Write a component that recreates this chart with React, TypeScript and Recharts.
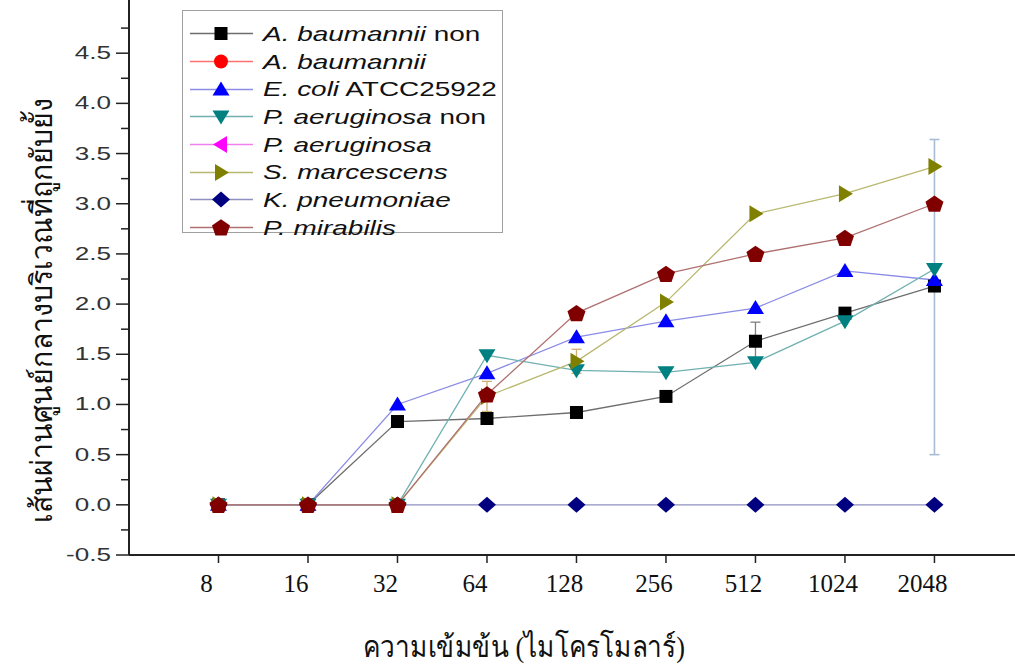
import { LineChart, Line, XAxis, YAxis, Legend, ErrorBar, Label } from 'recharts';

// concentration categories (x axis)
const concentrations = ['8', '16', '32', '64', '128', '256', '512', '1024', '2048'];

// y axis ticks (major every 0.5, minor every 0.25)
const yTicks = [
  -0.5, -0.25, 0, 0.25, 0.5, 0.75, 1, 1.25, 1.5, 1.75, 2, 2.25, 2.5, 2.75, 3, 3.25, 3.5, 3.75, 4, 4.25,
  4.5, 4.75,
];

// inhibition zone values per series (null = no point visible)
const abNon = [0, 0, 0.83, 0.86, 0.92, 1.08, 1.63, 1.91, 2.18];
const abau = [null, null, null, null, null, null, null, null, null];
const ecoli = [0, 0, 1.0, 1.31, 1.67, 1.83, 1.96, 2.33, 2.24];
const paNon = [0, 0, 0, 1.49, 1.34, 1.32, 1.42, 1.83, 2.35];
const paer = [null, null, null, null, null, null, null, null, null];
const smar = [0, 0, 0, 1.08, 1.43, 2.02, 2.9, 3.1, 3.37];
const kpne = [0, 0, 0, 0, 0, 0, 0, 0, 0];
const pmir = [0, 0, 0, 1.1, 1.91, 2.3, 2.5, 2.66, 3.0];

// error bars [below, above]
const abNonErr = [null, null, null, null, null, null, [0.19, 0.19], null, null];
const ecoliErr = [null, null, null, null, null, null, null, null, [1.74, 1.4]];
const smarErr = [null, null, null, [0.15, 0.15], [0.12, 0.12], null, null, null, null];

const legendItalic = [
  'A. baumannii',
  'A. baumannii',
  'E. coli',
  'P. aeruginosa',
  'P. aeruginosa',
  'S. marcescens',
  'K. pneumoniae',
  'P. mirabilis',
];
const legendSuffix = [' non', '', ' ATCC25922', ' non', '', '', '', ''];

const seriesKeys = ['abNon', 'abau', 'ecoli', 'paNon', 'paer', 'smar', 'kpne', 'pmir'];
const seriesValues = [abNon, abau, ecoli, paNon, paer, smar, kpne, pmir];

const seriesStyle = [
  { shape: 'square', color: '#000000', line: '#6e6e6e' },
  { shape: 'circle', color: '#ff0000', line: '#ff7070' },
  { shape: 'up', color: '#0000ff', line: '#8c8ce6' },
  { shape: 'down', color: '#008080', line: '#70b0b0' },
  { shape: 'left', color: '#ff00ff', line: '#f080f0' },
  { shape: 'right', color: '#808000', line: '#b8b870' },
  { shape: 'diamond', color: '#000080', line: '#9090c0' },
  { shape: 'pentagon', color: '#800000', line: '#b07070' },
];

const chartData = concentrations.map((c, i) => {
  const row: Record<string, unknown> = { idx: i, label: c };
  seriesKeys.forEach((k, s) => {
    row[k] = seriesValues[s][i];
  });
  row.abNonErr = abNonErr[i];
  row.ecoliErr = ecoliErr[i];
  row.smarErr = smarErr[i];
  return row;
});

function Marker({ shape, cx, cy, color }: { shape: string; cx: number; cy: number; color: string }) {
  if (cx == null || cy == null) return null;
  const pts = (arr: number[][]) => arr.map(([a, b]) => `${cx + a},${cy + b}`).join(' ');
  switch (shape) {
    case 'square':
      return <rect x={cx - 6.5} y={cy - 6.5} width={13} height={13} fill={color} />;
    case 'circle':
      return <circle cx={cx} cy={cy} r={7} fill={color} />;
    case 'up':
      return <polygon points={pts([[0, -8], [8.5, 6], [-8.5, 6]])} fill={color} />;
    case 'down':
      return <polygon points={pts([[0, 8], [8.5, -6], [-8.5, -6]])} fill={color} />;
    case 'left':
      return <polygon points={pts([[-8, 0], [6, -8.5], [6, 8.5]])} fill={color} />;
    case 'right':
      return <polygon points={pts([[8, 0], [-6, -8.5], [-6, 8.5]])} fill={color} />;
    case 'diamond':
      return <polygon points={pts([[0, -8], [9, 0], [0, 8], [-9, 0]])} fill={color} />;
    default: {
      const p: number[][] = [];
      for (let k = 0; k < 5; k++) {
        const a = -Math.PI / 2 + (k * 2 * Math.PI) / 5;
        p.push([9.5 * Math.cos(a), 9 * Math.sin(a) + 0.8]);
      }
      return <polygon points={pts(p)} fill={color} />;
    }
  }
}

function YTick(props: any) {
  const { x, y, payload } = props;
  const v = payload.value as number;
  const major = Math.abs(v * 2 - Math.round(v * 2)) < 1e-6;
  return (
    <g>
      <line x1={x} x2={x - (major ? 13 : 8)} y1={y} y2={y} stroke="#222" strokeWidth={1.5} />
      {major && (
        <text
          transform={`translate(${x - 18},${y}) scale(1.45,1)`}
          textAnchor="end"
          dominantBaseline="central"
          fontSize={18}
          fill="#333"
          fontFamily="'Liberation Sans', Arial, sans-serif"
        >
          {v.toFixed(1)}
        </text>
      )}
    </g>
  );
}

function XTick(props: any) {
  const { x, y, payload } = props;
  return (
    <g>
      <line x1={x} x2={x} y1={y} y2={y + 8} stroke="#222" strokeWidth={1.5} />
      <text
        x={x - 12}
        y={y + 37}
        textAnchor="middle"
        fontSize={25}
        fill="#111"
        fontFamily="'Liberation Serif', 'Times New Roman', serif"
      >
        {concentrations[payload.value]}
      </text>
    </g>
  );
}

function LegendBox() {
  return (
    <div
      style={{
        boxSizing: 'border-box',
        width: 321,
        height: 223,
        border: '1.5px solid #a0a0a0',
        background: '#fff',
        paddingTop: 9,
      }}
    >
      {seriesKeys.map((k, i) => (
        <div key={k} style={{ height: 27.7, display: 'flex', alignItems: 'center' }}>
          <svg width={72} height={27} style={{ flex: 'none' }}>
            <line x1={7} x2={70} y1={13.5} y2={13.5} stroke={seriesStyle[i].line} strokeWidth={1.3} />
            <Marker shape={seriesStyle[i].shape} cx={38} cy={13.5} color={seriesStyle[i].color} />
          </svg>
          <span
            style={{
              display: 'inline-block',
              marginLeft: 8,
              transform: 'scaleX(1.33)',
              transformOrigin: 'left center',
              fontFamily: "'Liberation Sans', Arial, sans-serif",
              fontSize: 21,
              color: '#111',
              whiteSpace: 'nowrap',
            }}
          >
            <i>{legendItalic[i]}</i>
            {legendSuffix[i]}
          </span>
        </div>
      ))}
    </div>
  );
}

export default function App() {
  return (
    <div style={{ position: 'absolute', left: 0, top: 0, width: 1015, height: 666, background: '#fff' }}>
      <LineChart width={1015} height={666} data={chartData} margin={{ top: 0, right: 0, bottom: 0, left: 0 }}>
        <XAxis
          dataKey="idx"
          type="number"
          domain={[-1, 8.9]}
          allowDataOverflow
          ticks={[0, 1, 2, 3, 4, 5, 6, 7, 8]}
          interval={0}
          height={111}
          tickSize={0}
          tickMargin={0}
          tickLine={false}
          axisLine={{ stroke: '#222', strokeWidth: 2 }}
          tick={(p: any) => <XTick {...p} />}
        >
          <Label
            content={() => (
              <text
                x={524}
                y={657}
                textAnchor="middle"
                fontSize={30}
                textLength={322}
                lengthAdjust="spacingAndGlyphs"
                fill="#111"
                fontFamily="'Liberation Serif', 'DejaVu Serif', serif"
              >
                ความเข้มข้น (ไมโครโมลาร์)
              </text>
            )}
          />
        </XAxis>
        <YAxis
          type="number"
          domain={[-0.5, 5.03]}
          allowDataOverflow
          ticks={yTicks}
          interval={0}
          width={129}
          tickSize={0}
          tickMargin={0}
          tickLine={false}
          axisLine={{ stroke: '#222', strokeWidth: 2 }}
          tick={(p: any) => <YTick {...p} />}
        >
          <Label
            content={() => (
              <text
                transform="translate(52,310) rotate(-90)"
                textAnchor="middle"
                fontSize={30}
                textLength={425}
                lengthAdjust="spacingAndGlyphs"
                fill="#111"
                fontFamily="'Liberation Serif', 'DejaVu Serif', serif"
              >
                เส้นผ่านศูนย์กลางบริเวณที่ถูกยับยั้ง
              </text>
            )}
          />
        </YAxis>
        <Legend
          layout="horizontal"
          verticalAlign="middle"
          align="center"
          wrapperStyle={{ left: 182, top: 10, width: 321, height: 223 }}
          content={() => <LegendBox />}
        />
        {seriesKeys.map((k, i) => (
          <Line
            key={k}
            dataKey={k}
            type="linear"
            stroke={seriesStyle[i].line}
            strokeWidth={1.3}
            isAnimationActive={false}
            dot={(p: any) => (
              <Marker key={`${k}-${p.index}`} shape={seriesStyle[i].shape} cx={p.cx} cy={p.cy} color={seriesStyle[i].color} />
            )}
            activeDot={false}
          >
            {k === 'abNon' && (
              <ErrorBar dataKey="abNonErr" direction="y" width={5} stroke="#808080" strokeWidth={1.3} />
            )}
            {k === 'ecoli' && (
              <ErrorBar dataKey="ecoliErr" direction="y" width={5} stroke="#a8bcd4" strokeWidth={1.6} />
            )}
            {k === 'smar' && (
              <ErrorBar dataKey="smarErr" direction="y" width={5} stroke="#d0b070" strokeWidth={1.3} />
            )}
          </Line>
        ))}
      </LineChart>
    </div>
  );
}
